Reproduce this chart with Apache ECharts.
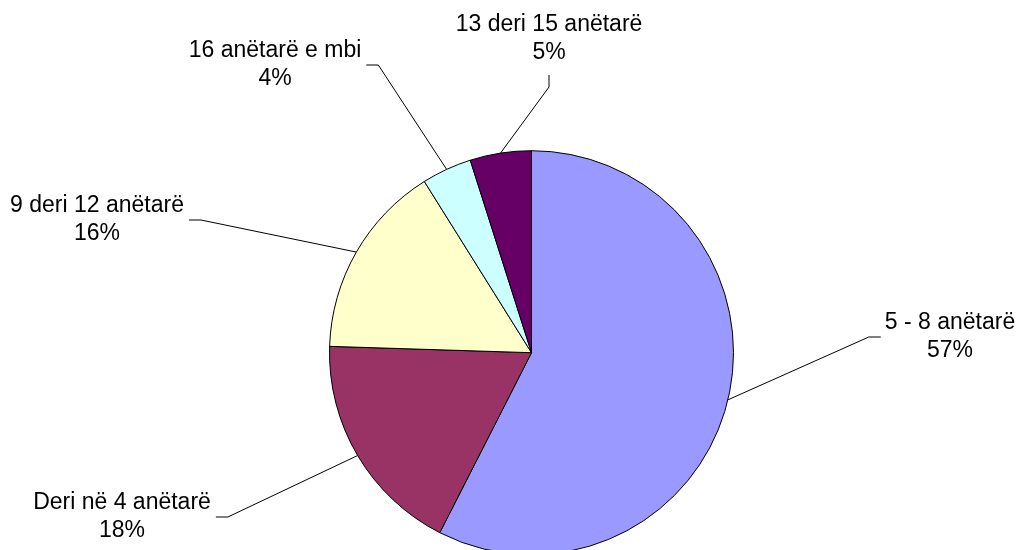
<!DOCTYPE html>
<html>
<head>
<meta charset="utf-8">
<script src="https://cdn.jsdelivr.net/npm/echarts@6/dist/echarts.min.js"></script>
<style>
    html, body {margin: 0; padding: 0; background: #fff;}
    #chart {width: 1019px; height: 550px;}
</style>
</head>
<body>
<div id="chart"></div>
<script>
// kategoritë dhe pjesët (%) të lexuara nga figura
const categories = ['5 - 8 anëtarë', 'Deri në 4 anëtarë', '9 deri 12 anëtarë', '16 anëtarë e mbi', '13 deri 15 anëtarë'];
const shares = [57.5, 18.0, 15.6, 4.0, 4.9];
const colors = ['#9999FF', '#993366', '#FFFFCC', '#CCFFFF', '#660066'];

// ku qendrohet secila etiketë dhe nga cila anë lidhet vija
const labelSpots = [
    [950, 337, 'left'],
    [122, 517, 'right'],
    [97, 220, 'right'],
    [275, 65, 'right'],
    [549, 39, 'bottom']
];

let myChart = echarts.init(document.getElementById('chart'), null, {renderer: 'canvas'});

let pieData = [];
for (let i = 0; i < categories.length; i++) {
    pieData.push({name: categories[i], value: shares[i], itemStyle: {color: colors[i]}});
}

let option = {
    backgroundColor: '#ffffff',
    animation: false,
    series: [{
        type: 'pie',
        center: [531.5, 352.7],
        radius: 202,
        startAngle: 90,
        clockwise: true,
        percentPrecision: 0,
        avoidLabelOverlap: false,
        itemStyle: {borderColor: '#000', borderWidth: 1},
        label: {
            show: true,
            position: 'outside',
            formatter: '{b}\n{d}%',
            color: '#000',
            fontFamily: '"Liberation Sans", Arial, sans-serif',
            fontSize: 23,
            lineHeight: 28,
            align: 'center'
        },
        labelLine: {
            show: true,
            lineStyle: {color: '#000', width: 1}
        },
        emphasis: {disabled: true},
        labelLayout: function (params) {
            let spot = labelSpots[params.dataIndex];
            let w = params.labelRect.width;
            let h = params.labelRect.height;
            let x = spot[0], y = spot[1];
            let attach, elbow;
            if (spot[2] === 'left') {
                attach = [x - w / 2 - 4, y];
                elbow = [x - w / 2 - 16, y];
            } else if (spot[2] === 'right') {
                attach = [x + w / 2 + 5, y];
                elbow = [x + w / 2 + 17, y];
            } else {
                attach = [x, y + h / 2 + 8];
                elbow = [x, y + h / 2 + 20];
            }
            let res = {x: x, y: y, align: 'center', verticalAlign: 'middle'};
            if (params.labelLinePoints) {
                res.labelLinePoints = [params.labelLinePoints[0], elbow, attach];
            }
            return res;
        },
        data: pieData
    }]
};
myChart.setOption(option);
</script>
</body>
</html>
